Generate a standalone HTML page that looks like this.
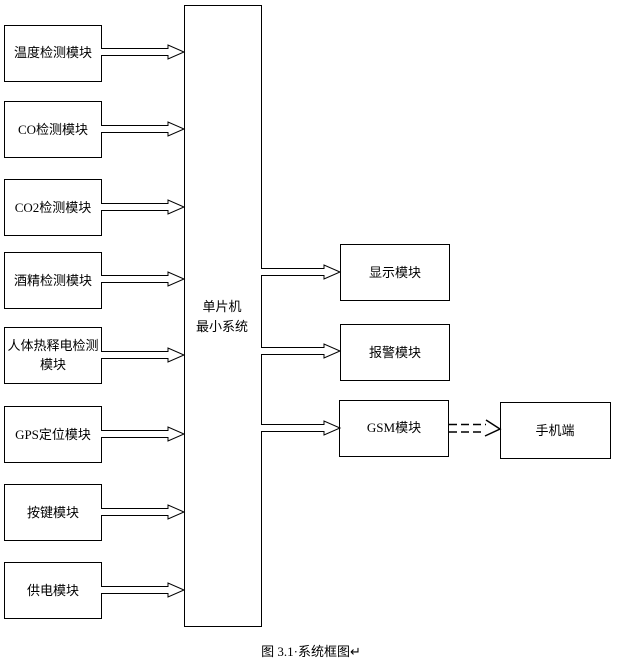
<!DOCTYPE html>
<html><head><meta charset="utf-8"><style>
html,body{margin:0;padding:0;background:#fff;}
svg{display:block;}
text{font-family:"Liberation Serif","Noto Sans CJK SC",sans-serif;font-size:13px;fill:#000;}
</style></head><body>
<svg width="617" height="662" viewBox="0 0 617 662" xmlns="http://www.w3.org/2000/svg">
<defs>
<g id="arr"><path d="M0,-3.5 H67 V-7 L83,0 L67,7 V3.5 H0" fill="#fff" stroke="#000" stroke-width="1"/></g>
<g id="arr2"><path d="M0,-3.5 H63 V-7 L79,0 L63,7 V3.5 H0" fill="#fff" stroke="#000" stroke-width="1"/></g>
</defs>
<g fill="#fff" stroke="#000" stroke-width="1">
<rect x="4.5" y="25.5" width="97" height="56"/>
<rect x="4.5" y="101.5" width="97" height="56"/>
<rect x="4.5" y="179.5" width="97" height="56"/>
<rect x="4.5" y="252.5" width="97" height="56"/>
<rect x="4.5" y="327.5" width="97" height="56"/>
<rect x="4.5" y="406.5" width="97" height="56"/>
<rect x="4.5" y="484.5" width="97" height="56"/>
<rect x="4.5" y="562.5" width="97" height="56"/>
<rect x="184.5" y="5.5" width="77" height="621"/>
<rect x="340.5" y="244.5" width="109" height="56"/>
<rect x="340.5" y="324.5" width="109" height="56"/>
<rect x="339.5" y="400.5" width="109" height="56"/>
<rect x="500.5" y="402.5" width="110" height="56"/>
</g>
<use href="#arr" x="101" y="52"/>
<use href="#arr" x="101" y="129"/>
<use href="#arr" x="101" y="207"/>
<use href="#arr" x="101" y="279"/>
<use href="#arr" x="101" y="355"/>
<use href="#arr" x="101" y="434"/>
<use href="#arr" x="101" y="512"/>
<use href="#arr" x="101" y="590"/>
<use href="#arr2" x="261" y="272"/>
<use href="#arr2" x="261" y="351"/>
<use href="#arr2" x="261" y="428"/>
<g stroke="#000" stroke-width="1.5" fill="none">
<path d="M449,424.5 H486" stroke-dasharray="8,4"/>
<path d="M449,432 H484" stroke-dasharray="8,4"/>
<path d="M486,420 L500,429 L485,436"/>
</g>
<g text-anchor="middle">
<text x="53" y="57">温度检测模块</text>
<text x="53" y="134">CO检测模块</text>
<text x="53" y="212">CO2检测模块</text>
<text x="53" y="285">酒精检测模块</text>
<text x="53" y="350">人体热释电检测</text>
<text x="53" y="369">模块</text>
<text x="53" y="439">GPS定位模块</text>
<text x="53" y="517">按键模块</text>
<text x="53" y="595">供电模块</text>
<text x="222" y="311">单片机</text>
<text x="222" y="331">最小系统</text>
<text x="395" y="277">显示模块</text>
<text x="395" y="357">报警模块</text>
<text x="394" y="432">GSM模块</text>
<text x="555" y="435">手机端</text>
<text x="311" y="656">图 3.1·系统框图↵</text>
</g>
</svg>
</body></html>
